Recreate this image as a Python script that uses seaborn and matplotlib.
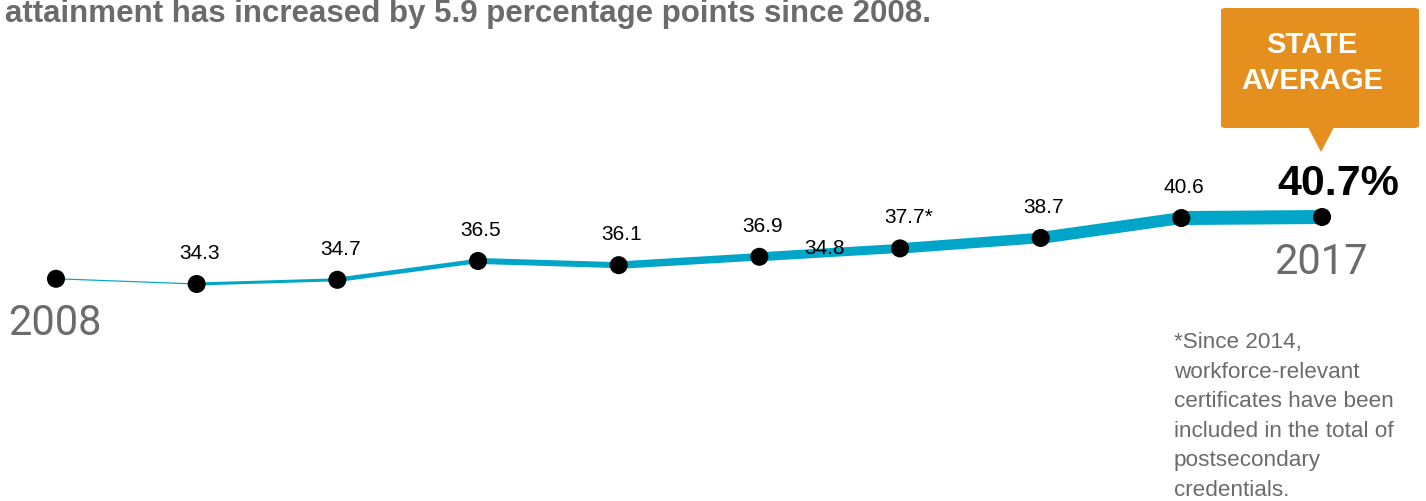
import numpy as np
import pandas as pd
import seaborn as sns
import matplotlib.pyplot as plt
from matplotlib.patches import FancyBboxPatch, Polygon

# attainment values
years = [2008, 2009, 2010, 2011, 2012, 2013, 2014, 2015, 2016, 2017]
values = [34.8, 34.3, 34.7, 36.5, 36.1, 36.9, 37.7, 38.7, 40.6, 40.7]
labels = ["34.8", "34.3", "34.7", "36.5", "36.1", "36.9", "37.7*", "38.7", "40.6", "40.7%"]

title = "attainment has increased by 5.9 percentage points since 2008."
note_lines = ["*Since 2014,", "workforce-relevant", "certificates have been",
              "included in the total of", "postsecondary", "credentials."]

df = pd.DataFrame({"year": years, "value": values})

sns.set_style("white")
plt.rcParams["font.family"] = ["Liberation Sans", "DejaVu Sans"]

fig = plt.figure(figsize=(14.26, 5.01), dpi=100)
ax = fig.add_axes([0, 0, 1, 1])
ax.set_xlim(2007.602, 2017.739)
ax.set_ylim(13.57, 61.43)
ax.axis("off")

blue = "#00A5C8"
gray = "#6b6b6b"
# line gets thicker each year (pixels -> points)
widths_px = [1.2, 3, 4.5, 6, 7.5, 9, 10.5, 12, 14]
for i in range(len(years) - 1):
    seg = df.iloc[i:i + 2]
    sns.lineplot(data=seg, x="year", y="value", ax=ax, color=blue,
                 linewidth=widths_px[i] * 0.72, solid_capstyle="butt", zorder=2)

sns.scatterplot(data=df, x="year", y="value", ax=ax, color="black",
                s=13 ** 2, edgecolor="none", zorder=3, legend=False)

# value labels above the points (2009-2016)
for yr, v, lab in zip(years[1:-1], values[1:-1], labels[1:-1]):
    ax.annotate(lab, (yr, v), xytext=(2 if "*" not in lab else 6, 22),
                textcoords="offset points", ha="center", va="center",
                fontsize=15, color="black")
# the 2008 label sits oddly in the middle of the line in the original
ax.annotate(labels[0], (years[5], values[5]), xytext=(47, 6),
            textcoords="offset points", ha="center", va="center",
            fontsize=15, color="black")

# final value
ax.annotate(labels[-1], (years[-1], values[-1]), xytext=(12, 24),
            textcoords="offset points", ha="center", va="center",
            fontsize=31, fontweight="bold", color="black")
ax.annotate(str(years[-1]), (years[-1], values[-1]), xytext=(-1, -33),
            textcoords="offset points", ha="center", va="center",
            fontsize=30, color=gray, family=["Roboto", "DejaVu Sans"])
ax.annotate(str(years[0]), (years[0], values[0]), xytext=(-1, -32),
            textcoords="offset points", ha="center", va="center",
            fontsize=30, color=gray, family=["Roboto", "DejaVu Sans"])

# title (cut at top in original)
fig.text(0.0035, 1 - 14 / 501, title, fontsize=22.5, fontweight="bold",
         color=gray, ha="left", va="center")

# orange callout
orange = "#E48F1E"
box = FancyBboxPatch((1221 / 1426, 1 - 128 / 501), 198 / 1426, 120 / 501,
                     boxstyle="round,pad=0,rounding_size=0.004",
                     transform=fig.transFigure, facecolor=orange,
                     edgecolor="none")
fig.patches.append(box)
tri = Polygon([(1308 / 1426, 1 - 127 / 501), (1334 / 1426, 1 - 127 / 501),
               (1321 / 1426, 1 - 152 / 501)], closed=True,
              transform=fig.transFigure, facecolor=orange, edgecolor="none")
fig.patches.append(tri)
fig.text(1312 / 1426, 1 - 63 / 501, "STATE\nAVERAGE", fontsize=21,
         fontweight="bold", color="white", ha="center", va="center",
         linespacing=1.4)

# footnote, one line at a time so the spacing is exact
for k, line in enumerate(note_lines):
    fig.text(1174 / 1426, 1 - (340 + 29.6 * k) / 501, line, fontsize=16.2,
             color=gray, ha="left", va="center_baseline")

fig.savefig("out.png", dpi=100)
